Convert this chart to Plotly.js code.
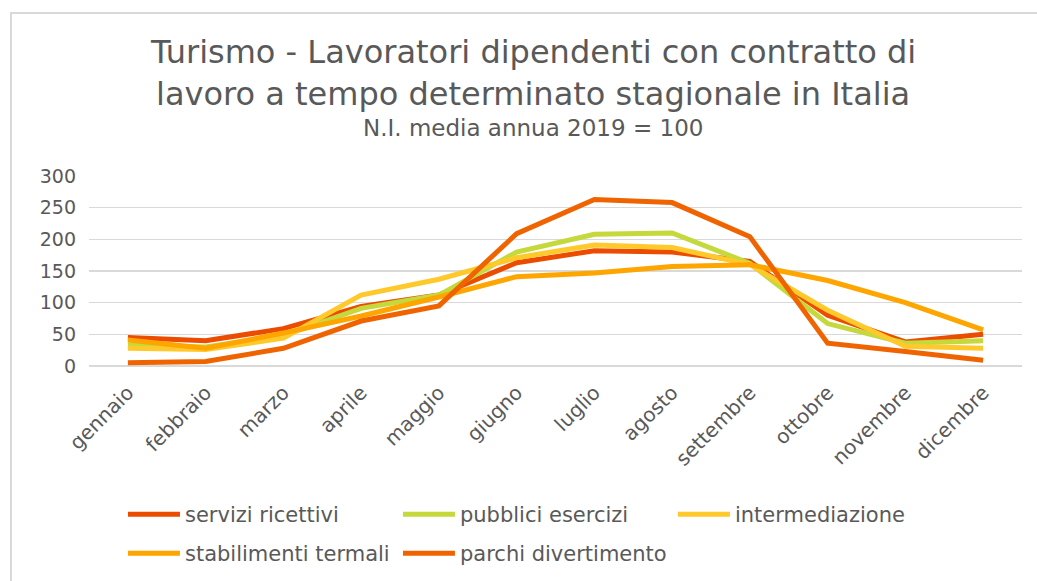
<!DOCTYPE html>
<html>
<head>
<meta charset="utf-8">
<script src="https://cdn.plot.ly/plotly-3.0.1.min.js"></script>
<style>
  html, body { margin: 0; padding: 0; background: #fff; }
  #wrap { position: relative; width: 1037px; height: 581px; overflow: hidden; }
  #chart { position: absolute; left: 0; top: 0; width: 1037px; height: 581px; }
  #frame { position: absolute; left: 10px; top: 12px; width: 1100px; height: 700px;
           border-left: 2px solid #D9D9D9; border-top: 2px solid #D9D9D9; pointer-events: none; }
</style>
</head>
<body>
<div id="wrap">
  <div id="chart"></div>
  <div id="frame"></div>
</div>
<script>
const months = ["gennaio","febbraio","marzo","aprile","maggio","giugno","luglio","agosto","settembre","ottobre","novembre","dicembre"];

const serviziRicettivi   = [45, 40, 59, 94, 112, 163, 182, 180, 165, 80, 38, 50];
const pubbliciEsercizi   = [33, 30, 48, 91, 112, 180, 208, 210, 162, 67, 36, 40];
const intermediazione    = [28, 26, 44, 112, 137, 171, 191, 187, 160, 88, 31, 28];
const stabilimentiTermali = [41, 28, 52, 79, 109, 141, 147, 157, 160, 135, 100, 57];
const parchiDivertimento = [5, 7, 28, 71, 95, 209, 263, 258, 204, 36, 23, 9];

const seriesNames = ["servizi ricettivi","pubblici esercizi","intermediazione","stabilimenti termali","parchi divertimento"];
const seriesValues = [serviziRicettivi, pubbliciEsercizi, intermediazione, stabilimentiTermali, parchiDivertimento];
const seriesColors = ["#EB4C00", "#C5D83C", "#FFC92C", "#FFA500", "#F06400"];

const titleLine1 = "Turismo - Lavoratori dipendenti con contratto di";
const titleLine2 = "lavoro a tempo determinato stagionale in Italia";
const subtitle = "N.I. media annua 2019 = 100";

const traces = seriesNames.map((n, i) => ({
  type: "scatter", mode: "lines", name: n, x: months, y: seriesValues[i],
  line: { color: seriesColors[i], width: 5 },
  legend: i < 3 ? "legend" : "legend2"
}));

const font = "DejaVu Sans, Verdana, sans-serif";
const ann = (text, y, size) => ({
  text: text, xref: "paper", yref: "paper", x: 0.476, y: y,
  xanchor: "center", yanchor: "middle", showarrow: false,
  font: { family: font, size: size, color: "#595959" }
});
const legendBase = {
  orientation: "h", x: 0.0364, xanchor: "left", yref: "container", yanchor: "top",
  font: { family: font, size: 21, color: "#595959" },
  entrywidth: 208, entrywidthmode: "pixels", itemwidth: 52,
  traceorder: "normal", tracegroupgap: 0, bgcolor: "rgba(0,0,0,0)"
};
const layout = {
  width: 1037, height: 581,
  paper_bgcolor: "#fff", plot_bgcolor: "#fff",
  font: { family: font, color: "#595959" },
  margin: { l: 89, r: 15, t: 176, b: 215, autoexpand: false },
  annotations: [
    ann(titleLine1, 1 + (176 - 52) / 190, 32),
    ann(titleLine2, 1 + (176 - 94) / 190, 32),
    ann(subtitle, 1 + (176 - 128) / 190, 23)
  ],
  xaxis: {
    type: "category", range: [-0.5, 11.5], tickangle: -45, showgrid: false, showline: false, zeroline: false,
    ticks: "", ticklabelstandoff: 10, tickfont: { family: font, size: 20, color: "#595959" }
  },
  yaxis: {
    range: [0, 300], dtick: 50, tick0: 0, showgrid: true, gridcolor: "#D9D9D9", gridwidth: 1.5,
    zeroline: true, zerolinecolor: "#D9D9D9", zerolinewidth: 1.5,
    showline: false, ticks: "", ticklabelstandoff: 12,
    tickfont: { family: font, size: 19, color: "#595959" }
  },
  showlegend: true,
  legend: Object.assign({}, legendBase, { y: 1 - 494 / 581 }),
  legend2: Object.assign({}, legendBase, { y: 1 - 533 / 581 })
};

Plotly.newPlot("chart", traces, layout, { displayModeBar: false, staticPlot: true });
</script>
</body>
</html>
